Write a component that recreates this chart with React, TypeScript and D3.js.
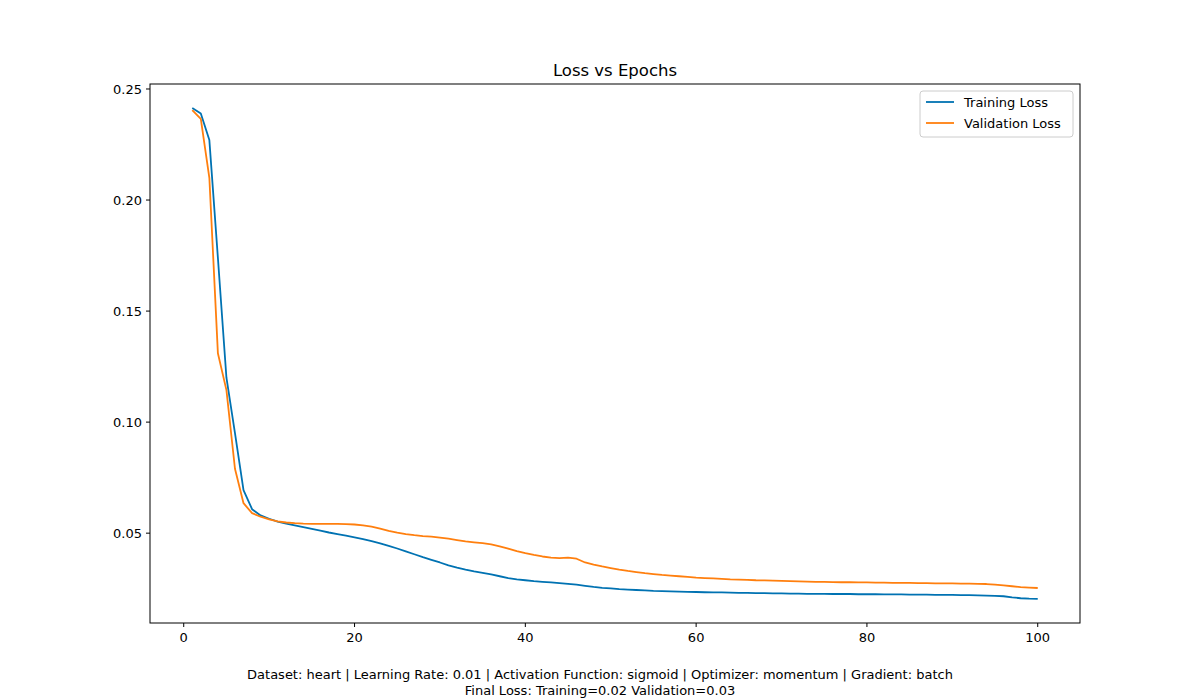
import React from 'react';
import * as d3 from 'd3';

const trainLoss = [
  0.2414, 0.239, 0.227, 0.174, 0.12, 0.095, 0.0694, 0.0608, 0.058, 0.0565,
  0.0552, 0.0543, 0.0535, 0.0527, 0.0519, 0.0511, 0.0503, 0.0496, 0.0489, 0.0481,
  0.0473, 0.0464, 0.0454, 0.0443, 0.0431, 0.0418, 0.0405, 0.0392, 0.038, 0.0368,
  0.0355, 0.0345, 0.0336, 0.0328, 0.0321, 0.0314, 0.0306, 0.0298, 0.0292, 0.0288,
  0.0284, 0.0281, 0.0278, 0.0275, 0.0272, 0.0268, 0.0263, 0.0258, 0.0254, 0.0251,
  0.0248, 0.0246, 0.0244, 0.0242, 0.024, 0.0239, 0.0238, 0.0237, 0.0236, 0.0235,
  0.0234, 0.0233, 0.0233, 0.0232, 0.0231, 0.0231, 0.023, 0.023, 0.0229, 0.0229,
  0.0228, 0.0228, 0.0227, 0.0227, 0.0227, 0.0226, 0.0226, 0.0226, 0.0225, 0.0225,
  0.0225, 0.0224, 0.0224, 0.0224, 0.0223, 0.0223, 0.0223, 0.0222, 0.0222, 0.0222,
  0.0221, 0.0221, 0.022, 0.0219, 0.0218, 0.0216, 0.0211, 0.0207, 0.0205, 0.0204,
];

const valLoss = [
  0.2405, 0.2365, 0.21, 0.131, 0.1144, 0.079, 0.0635, 0.059, 0.0574, 0.0562,
  0.0553, 0.0548, 0.0545, 0.0543, 0.0542, 0.0542, 0.0542, 0.0542, 0.0541, 0.0539,
  0.0535, 0.0529, 0.052, 0.051, 0.0502, 0.0496, 0.0491, 0.0487, 0.0484, 0.048,
  0.0475, 0.0469, 0.0463, 0.0459, 0.0455, 0.045, 0.0441, 0.043, 0.0419, 0.041,
  0.0402, 0.0395, 0.039, 0.0388, 0.039, 0.0385, 0.0368, 0.0358, 0.035, 0.0343,
  0.0336, 0.033, 0.0325, 0.032, 0.0316, 0.0312, 0.0309, 0.0306, 0.0303, 0.03,
  0.0298, 0.0296, 0.0294, 0.0292, 0.0291, 0.029, 0.0288, 0.0287, 0.0286, 0.0285,
  0.0284, 0.0283, 0.0282, 0.0281, 0.0281, 0.028, 0.0279, 0.0279, 0.0278, 0.0278,
  0.0277, 0.0277, 0.0276, 0.0276, 0.0276, 0.0275, 0.0275, 0.0274, 0.0274, 0.0274,
  0.0273, 0.0273, 0.0272, 0.0271, 0.0268, 0.0265, 0.0261, 0.0257, 0.0255, 0.0253,
];

const xTicks = [0, 20, 40, 60, 80, 100];
const yTicks = [0.05, 0.1, 0.15, 0.2, 0.25];
const series = [
  { name: 'Training Loss', values: trainLoss, color: '#0072b2' },
  { name: 'Validation Loss', values: valLoss, color: '#ff7f0e' },
];

const W = 1200;
const H = 700;
const left = 150;
const right = 1080;
const top = 84;
const bottom = 623;
const font = 'DejaVu Sans, sans-serif';

const App: React.FC = () => {
  const x = d3.scaleLinear().domain([-3.95, 104.95]).range([left, right]);
  const y = d3.scaleLinear().domain([0.00955, 0.25225]).range([bottom, top]);
  const line = d3.line<number>()
    .x((_, i) => x(i + 1))
    .y(d => y(d));

  return (
    <svg width={W} height={H} style={{ position: 'absolute', left: 0, top: 0, background: '#fff' }} fontFamily={font}>
      <text x={(left + right) / 2} y={76} textAnchor="middle" fontSize={16.5}>Loss vs Epochs</text>

      {series.map(s => (
        <path key={s.name} d={line(s.values) || ''} fill="none" stroke={s.color} strokeWidth={1.8} strokeLinejoin="round" />
      ))}

      <rect x={left} y={top} width={right - left} height={bottom - top} fill="none" stroke="#000" strokeWidth={1} />

      {xTicks.map(t => (
        <g key={t} transform={`translate(${x(t)},${bottom})`}>
          <line y2={4} stroke="#000" />
          <text y={19} textAnchor="middle" fontSize={13}>{t}</text>
        </g>
      ))}
      {yTicks.map(t => (
        <g key={t} transform={`translate(${left},${y(t)})`}>
          <line x2={-4} stroke="#000" />
          <text x={-8} dy="0.35em" textAnchor="end" fontSize={13}>{t.toFixed(2)}</text>
        </g>
      ))}

      <g transform="translate(920,91)">
        <rect width={153} height={46} rx={3} fill="#fff" stroke="#ccc" />
        {series.map((s, i) => (
          <g key={s.name} transform={`translate(0,${11 + i * 21})`}>
            <line x1={6} x2={34} stroke={s.color} strokeWidth={1.8} />
            <text x={44} dy="0.35em" fontSize={13}>{s.name}</text>
          </g>
        ))}
      </g>

      <text x={W / 2} y={679} textAnchor="middle" fontSize={13}>
        Dataset: heart | Learning Rate: 0.01 | Activation Function: sigmoid | Optimizer: momentum | Gradient: batch
      </text>
      <text x={W / 2} y={695} textAnchor="middle" fontSize={13}>Final Loss: Training=0.02 Validation=0.03</text>
    </svg>
  );
};

export default App;
